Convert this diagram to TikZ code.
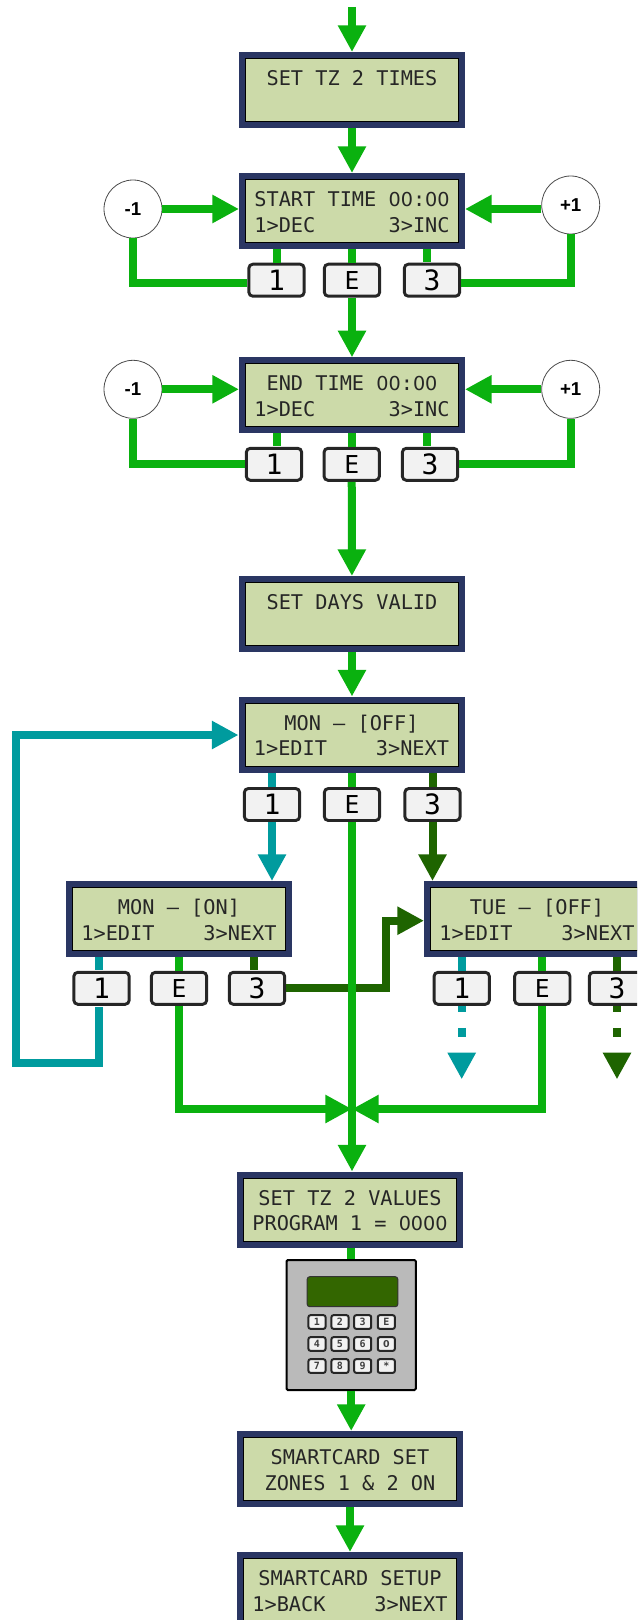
\documentclass[tikz,border=0pt]{standalone}
\usepackage{fontspec}
\usetikzlibrary{arrows.meta}
\setmonofont{DejaVu Sans Mono}
\newfontfamily\circlefont{Liberation Sans}
\newfontfamily\zerofont{DejaVu Sans}[Scale=.947]
\definecolor{lcdnavy}{HTML}{2A3663}
\definecolor{lcdfill}{HTML}{CCDAA9}
\definecolor{flowgreen}{HTML}{0AB10F}
\definecolor{flowteal}{HTML}{009B9E}
\definecolor{flowdark}{HTML}{1E6400}
\definecolor{keyfill}{HTML}{F2F2F2}
\definecolor{padgreen}{HTML}{336600}
\newcommand{\lcdrows}[2]{\rule{0pt}{18.6pt}#1\\\strut #2}
\newcommand{\zr}{{\zerofont 0}}
\tikzset{
	lcdbox/.style={rectangle,draw=black,line width=.6pt,fill=lcdfill,inner sep=0pt,
		minimum width=159.75pt,minimum height=47.25pt,outer sep=4.875pt,align=center,
		preaction={draw=lcdnavy,line width=9.75pt},text=black!85,
		font=\ttfamily\fontsize{15.2}{19.4}\selectfont},
	keybox/.style={rectangle,rounded corners=3pt,draw=black!85,line width=2.2pt,fill=keyfill,
		inner sep=0pt,minimum width=41.5pt,minimum height=24pt,outer sep=1.1pt,
		font=\ttfamily\fontsize{18.5}{20}\selectfont},
	digitkey/.style={keybox,font=\ttfamily\fontsize{21}{22}\selectfont},
	stepcircle/.style={circle,draw=black!70,line width=.6pt,fill=white,inner sep=0pt,
		minimum size=43.5pt,font=\circlefont\bfseries\fontsize{14}{16}\selectfont},
	padkey/.style={rectangle,rounded corners=1.5pt,draw=black!85,line width=1.5pt,fill=keyfill,
		inner sep=0pt,minimum width=12.8pt,minimum height=10.2pt,
		text=black!75,font=\ttfamily\bfseries\fontsize{7.5}{8}\selectfont},
	greenline/.style={draw=flowgreen,line width=6pt},
	tealline/.style={draw=flowteal,line width=6pt},
	darkline/.style={draw=flowdark,line width=6pt},
	headed/.style={-{Triangle[length=20pt,width=20pt]}}
}
\begin{document}
\begin{tikzpicture}[x=.75pt,y=-.75pt]
	\useasboundingbox (0,0) rectangle (637,1620);
	\clip (0,0) rectangle (637,1620);
	% displays
	\begin{scope}[every node/.style={lcdbox}]
		\node (settimes) at (352,90) {\lcdrows{SET TZ 2 TIMES}{}};
		\node (start) at (352,211) {\lcdrows{START TIME \zr\zr:\zr\zr}{1>DEC~~~~~~3>INC}};
		\node (end) at (352,395.3) {\lcdrows{END TIME \zr\zr:\zr\zr}{1>DEC~~~~~~3>INC}};
		\node (setdays) at (352,614) {\lcdrows{SET DAYS VALID}{}};
		\node (monoff) at (351.5,734.5) {\lcdrows{MON – [OFF]}{1>EDIT~~~~3>NEXT}};
		\node (monon) at (179,919) {\lcdrows{MON – [ON]}{1>EDIT~~~~3>NEXT}};
		\node (tueoff) at (537,919) {\lcdrows{TUE – [OFF]}{1>EDIT~~~~3>NEXT}};
		\node (setvalues) at (350,1209.5) {\lcdrows{SET TZ 2 VALUES}{PROGRAM 1 = \zr\zr\zr\zr}};
		\node (cardset) at (350,1469) {\lcdrows{SMARTCARD SET}{ZONES 1 \& 2 ON}};
		\node (cardsetup) at (350,1590) {\lcdrows{SMARTCARD SETUP}{1>BACK~~~~3>NEXT}};
	\end{scope}
	% buttons
	\begin{scope}[every node/.style={digitkey}]
		\node (s1) at (276.5,280.2) {1};
		\node (s3) at (432,280.2) {3};
		\node (e1) at (274,464.3) {1};
		\node (e3) at (430,464.3) {3};
		\node (o1) at (272,804.5) {1};
		\node (o3) at (432.5,804.5) {3};
		\node (n1) at (101.5,988.3) {1};
		\node (n3) at (257,988.3) {3};
		\node (t1) at (461.7,988.3) {1};
		\node (t3) at (617,988.3) {3};
	\end{scope}
	\begin{scope}[every node/.style={keybox}]
		\node (sE) at (352,280.2) {E};
		\node (eE) at (351.7,464.3) {E};
		\node (oE) at (352,804.5) {E};
		\node (nE) at (179,988.3) {E};
		\node (tE) at (542.3,988.3) {E};
	\end{scope}
	% step circles
	\begin{scope}[every node/.style={stepcircle}]
		\node (sminus) at (133,209) {-1};
		\node (splus) at (570.7,205) {+1};
		\node (eminus) at (133,389.3) {-1};
		\node (eplus) at (570.7,389.3) {+1};
	\end{scope}
	% keypad
	\node (pad) at (351.2,1325) [rectangle,rounded corners=1pt,draw=black,line width=1.5pt,fill=black!27,minimum width=97pt,minimum height=97.5pt] {};
	\node (paddisplay) at (352.5,1291.7) [rectangle,rounded corners=2pt,draw=black!80,line width=.8pt,fill=padgreen,minimum width=68pt,minimum height=22.5pt] {};
	\begin{scope}[every node/.style={padkey}]
		\foreach \name/\px/\py/\txt in {p1/317/1322/1,p2/340/1322/2,p3/362.7/1322/3,pE/386.3/1322/E,
			p4/317/1344/4,p5/340/1344/5,p6/362.7/1344/6,p0/386.3/1344/\zr,
			p7/317/1366/7,p8/340/1366/8,p9/362.7/1366/9,pS/386.3/1366/*}
			\node (\name) at (\px,\py) {\txt};
	\end{scope}
	% free ends and offset drops
	\coordinate (srow) at (0,283);
	\coordinate (s3drop) at (426.7,262);
	\coordinate (e1drop) at (277.3,446);
	\coordinate (e3drop) at (426.7,446);
	\coordinate (n1drop) at (99,970);
	\coordinate (n3drop) at (254,970);
	\coordinate (n1under) at (99,1007);
	\coordinate (nturn) at (386,920.7);
	\coordinate (loopa) at (16,1063);
	\coordinate (loopb) at (16,735);
	\coordinate (join) at (352,1109);
	\coordinate (intop) at (352,7);
	\coordinate (t1end) at (461.7,1079.3);
	\coordinate (t3end) at (617,1079.3);

	\begin{scope}[every edge/.style={darkline}]
		\path (monoff.south -| o3) edge (o3);
		\path [headed] (o3) edge (o3 |- tueoff.north);
		\path (monon.south -| n3drop) edge (n3drop);
		\path (tueoff.south -| t3) edge (t3);
		\path [darkline,headed] (n3) -| (nturn) -- (nturn -| tueoff.west);
		\path [darkline,headed,dash pattern=on 4.5pt off 12pt on 7pt off 60pt] (t3) -- (t3end);
	\end{scope}
	\begin{scope}[every edge/.style={tealline}]
		\path (monoff.south -| o1) edge (o1);
		\path [headed] (o1) edge (o1 |- monon.north);
		\path (monon.south -| n1drop) edge (n1drop);
		\path (tueoff.south -| t1) edge (t1);
		\path [tealline,headed] (n1under) |- (loopa) -- (loopb) -- (loopb -| monoff.west);
		\path [tealline,headed,dash pattern=on 4.5pt off 12pt on 7pt off 60pt] (t1) -- (t1end);
	\end{scope}
	\begin{scope}[every edge/.style={greenline}]
		\path [headed] (intop) edge (intop |- settimes.north);
		\path [headed] (settimes) edge (start);
		\path (start.south -| s1) edge (s1);
		\path (start.south -| sE) edge (sE);
		\path (start.south -| s3drop) edge (s3drop);
		\path [headed] (sE) edge (end);
		\path [headed] (sminus) edge (sminus -| start.west);
		\path [headed] (splus.west |- sminus) edge (start.east |- sminus);
		\path [greenline] (s1.west |- srow) -| (sminus);
		\path [greenline] (s3.east |- srow) -| (splus);
		\path (end.south -| e1drop) edge (e1drop);
		\path (end.south -| eE) edge (eE);
		\path (end.south -| e3drop) edge (e3drop);
		\path [headed] (eE) edge (setdays);
		\path [headed] (eminus) edge (eminus -| end.west);
		\path [headed] (eplus) edge (eplus -| end.east);
		\path [greenline] (e1) -| (eminus);
		\path [greenline] (e3) -| (eplus);
		\path [headed] (setdays) edge (setdays.south |- monoff.north);
		\path (monoff.south -| oE) edge (oE);
		\path [headed] (oE) edge (oE |- setvalues.north);
		\path (monon.south -| nE) edge (nE);
		\path (tueoff.south -| tE) edge (tE);
		\path [greenline,headed] (nE) |- (join);
		\path [greenline,headed] (tE) |- (join);
		\path (setvalues.south -| pad) edge (pad);
		\path [headed] (pad) edge (pad |- cardset.north);
		\path [headed] (cardset) edge (cardsetup);
	\end{scope}
\end{tikzpicture}
\end{document}
